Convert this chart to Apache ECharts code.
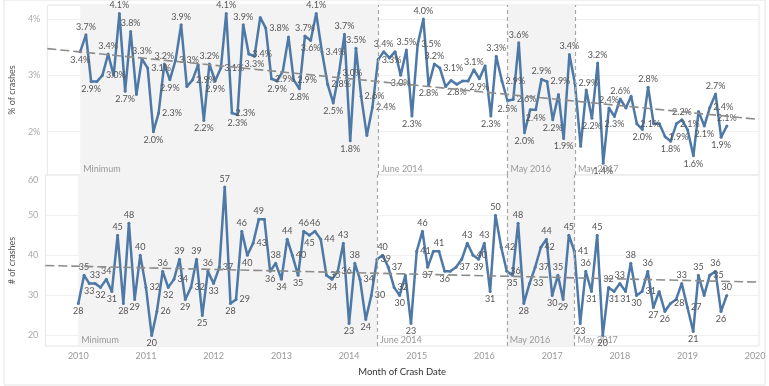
<!DOCTYPE html>
<html><head><meta charset="utf-8">
<script src="https://cdn.jsdelivr.net/npm/echarts@6/dist/echarts.min.js"></script>
<style>html,body{margin:0;padding:0;background:#fff}#c{width:769px;height:386px}</style>
</head><body><div id="c"></div>
<script>
// months: Jan 2010 .. Aug 2019
const firstYear = 2010, firstMonth = 0, monthCount = 116;
const pctCrashes = [
 3.42,3.72,2.89,2.89,3.0,3.38,3.0,4.1,2.72,3.78,2.66,3.29,3.13,2.0,2.33,3.2,2.92,3.27,3.9,2.8,2.92,3.19,2.2,3.2,2.9,3.13,4.1,2.33,2.3,3.9,3.38,3.34,4.03,
 3.84,2.94,2.9,3.07,3.68,2.92,2.76,3.7,3.62,4.1,3.42,2.84,2.51,3.04,3.73,1.84,3.48,2.63,1.93,2.43,3.28,3.42,3.31,3.42,3.0,3.45,2.28,3.55,4.0,2.82,
 3.2,3.13,2.8,2.91,2.84,2.9,2.9,3.1,2.94,3.17,2.28,3.34,2.9,2.55,2.57,3.58,1.98,2.39,2.39,2.93,2.89,2.21,2.66,1.88,3.37,2.86,1.74,2.74,2.24,3.22,
 1.44,2.42,2.27,2.58,2.42,2.63,2.14,2.04,2.79,2.14,2.14,1.91,1.83,2.14,2.21,2.03,1.57,2.36,2.1,2.43,2.67,1.9,2.1
];
const numCrashes = [
 28,35,33,33,32,34,31,45,28,48,29,40,32,20,26,36,32,34,39,29,32,39,25,36,33,37,57,28,29,46,40,43,49,
 49,36,38,34,44,40,35,46,45,46,44,35,34,36,43,23,38,34,24,30,39,40,37,32,30,35,23,41,46,37,41,41,36,36,37,39,43,40,39,43,31,50,42,36,
 35,48,28,33,37,42,44,30,35,29,45,41,23,36,31,45,20,32,31,33,31,38,30,31,36,27,31,26,28,29,33,27,21,35,30,35,36,26,30
];
const refLines = [['2014-06-01','June 2014'],['2016-05-01','May 2016'],['2017-05-01','May 2017']];
const shadedBands = [['2010-01-01','2014-06-01','Minimum'],['2016-05-01','2017-05-01','']];
const xRange = ['2009-07-07','2020-01-22'];

const months = [];
for (let i = 0; i < monthCount; i++) months.push(new Date(firstYear, firstMonth + i, 1).getTime());
const ts = s => { const p = s.split('-').map(Number); return new Date(p[0], p[1]-1, p[2]).getTime(); };
const xMin = ts(xRange[0]), xMax = ts(xRange[1]);

function trend(vals) {
  const n = vals.length; let sx=0, sy=0, sxx=0, sxy=0;
  for (let i=0;i<n;i++){ const x=months[i]/1e10; sx+=x; sy+=vals[i]; sxx+=x*x; sxy+=x*vals[i]; }
  const b = (n*sxy - sx*sy)/(n*sxx - sx*sx), a = (sy - b*sx)/n;
  return [[xMin, a + b*xMin/1e10],[xMax, a + b*xMax/1e10]];
}
function pts(vals) {
  return vals.map((v,i) => {
    const p = i>0 ? vals[i-1] : v, n = i<vals.length-1 ? vals[i+1] : v;
    let pos = 'right';
    if (v >= p && v >= n) pos = 'top'; else if (v <= p && v <= n) pos = 'bottom';
    return { value: [months[i], v], label: { position: pos } };
  });
}
const bandData = shadedBands.map(b => [{xAxis: ts(b[0]), name: b[2]}, {xAxis: ts(b[1])}])
  .concat(refLines.map(r => [{xAxis: ts(r[0]), name: r[1], itemStyle:{color:'rgba(0,0,0,0)'}}, {xAxis: ts(r[0])}]));
const markArea = {
  silent: true, itemStyle: { color: '#f3f3f3' },
  label: { position: 'insideBottomLeft', color: '#999', fontSize: 9, fontFamily: 'Lato', distance: 3, offset:[0,2] },
  data: bandData
};
const markLine = {
  silent: true, symbol: 'none', label: { show: false },
  lineStyle: { color: '#a8a8a8', type: [4,3], width: 1.2 },
  data: refLines.map(r => ({ xAxis: ts(r[0]) }))
};
const FONT = 'Lato';
const lineColor = '#4e79a7';
function mainSeries(idx, vals, fmt) {
  return {
    type: 'line', xAxisIndex: idx, yAxisIndex: idx, data: pts(vals), z: 3,
    symbol: 'circle', symbolSize: 3, itemStyle: { color: lineColor },
    lineStyle: { color: lineColor, width: 2.5 },
    label: { show: true, formatter: p => fmt(p.value[1]), fontSize: 9, color: '#555', fontFamily: FONT, distance: 2 },
    labelLayout: { hideOverlap: true },
    markArea: markArea, markLine: markLine, animation: false
  };
}
function trendSeries(idx, vals) {
  return { type: 'line', xAxisIndex: idx, yAxisIndex: idx, data: trend(vals), z: 4, silent: true,
    symbol: 'none', lineStyle: { color: '#8c8c8c', width: 1.6, type: [9,4] }, animation: false };
}
const xAxisBase = (idx, showLabels) => ({
  type: 'time', gridIndex: idx, min: xMin, max: xMax,
  minInterval: 365*86400000, maxInterval: 366*86400000,
  axisLine: { show: false }, axisTick: { show: false }, splitLine: { show: false },
  axisLabel: { show: showLabels, formatter: '{yyyy}', color: '#999', fontSize: 9, fontFamily: FONT, margin: 6 },
  name: showLabels ? 'Month of Crash Date' : '', nameLocation: 'middle', nameGap: 21,
  nameTextStyle: { color: '#333', fontSize: 9.5, fontFamily: FONT }
});
const chart = echarts.init(document.getElementById('c'));
chart.setOption({
  animation: false,
  graphic: [{ type: 'rect', shape: { x: 4, y: 0, width: 761, height: 385 }, style: { fill: 'none', stroke: '#e4e4e4', lineWidth: 1 }, silent: true }],
  grid: [
    { left: 42, right: 10, top: 5, height: 170, show: true, borderColor: '#e6e6e6', borderWidth: 1 },
    { left: 42, right: 10, top: 175, height: 171, show: true, borderColor: '#e6e6e6', borderWidth: 1 }
  ],
  xAxis: [xAxisBase(0, false), xAxisBase(1, true)],
  yAxis: [
    { type: 'value', gridIndex: 0, min: 1.23, max: 4.25, splitNumber: 3,
      axisLine: { show: false }, axisTick: { show: false },
      splitLine: { lineStyle: { color: '#f0f0f0' } },
      axisLabel: { formatter: v => v + '%', color: '#aaa', fontSize: 9, fontFamily: FONT, showMinLabel: false, showMaxLabel: false, margin: 7 },
      name: '% of crashes', nameLocation: 'middle', nameGap: 23, nameTextStyle: { color: '#555', fontSize: 9, fontFamily: FONT } },
    { type: 'value', gridIndex: 1, min: 17.4, max: 60, splitNumber: 4,
      axisLine: { show: false }, axisTick: { show: false },
      splitLine: { lineStyle: { color: '#f0f0f0' } },
      axisLabel: { formatter: v => v === 60 ? '{t|60}' : String(v), rich: { t: { padding: [10,0,0,0], color: '#aaa', fontSize: 9, fontFamily: FONT } },
        color: '#aaa', fontSize: 9, fontFamily: FONT, showMinLabel: false, margin: 7 },
      name: '# of crashes', nameLocation: 'middle', nameGap: 23, nameTextStyle: { color: '#555', fontSize: 9, fontFamily: FONT } }
  ],
  series: [
    mainSeries(0, pctCrashes, v => v.toFixed(1) + '%'),
    trendSeries(0, pctCrashes),
    mainSeries(1, numCrashes, v => String(v)),
    trendSeries(1, numCrashes)
  ]
});
</script></body></html>
